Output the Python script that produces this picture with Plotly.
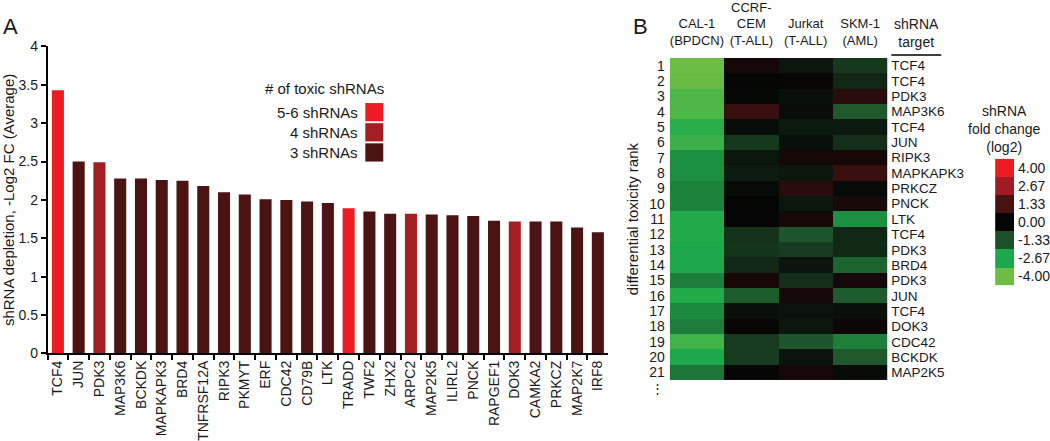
import plotly.graph_objects as go

W, H = 1050, 441
FONT = "Liberation Sans, Arial, Helvetica, sans-serif"

# ---------------- Panel A data ----------------
genes_a = ["TCF4", "JUN", "PDK3", "MAP3K6", "BCKDK", "MAPKAPK3", "BRD4", "TNFRSF12A",
           "RIPK3", "PKMYT", "ERF", "CDC42", "CD79B", "LTK", "TRADD", "TWF2", "ZHX2",
           "ARPC2", "MAP2K5", "ILIRL2", "PNCK", "RAPGEF1", "DOK3", "CAMKA2", "PRKCZ",
           "MAP2K7", "IRF8"]
depletion = [3.43, 2.50, 2.49, 2.28, 2.28, 2.26, 2.25, 2.18, 2.10, 2.07, 2.01, 2.00,
             1.98, 1.96, 1.89, 1.85, 1.82, 1.82, 1.81, 1.80, 1.79, 1.73, 1.72, 1.72,
             1.72, 1.64, 1.58]
toxic_group = ["5-6", "3", "4", "3", "3", "3", "3", "3", "3", "3", "3", "3", "3", "3",
               "5-6", "3", "3", "4", "3", "3", "3", "3", "4", "3", "3", "3", "3"]
group_labels = ["5-6", "4", "3"]
group_colors = {"5-6": "#ED1C24", "4": "#A51E23", "3": "#4B1311"}

# ---------------- Panel B data ----------------
ranks = list(range(1, 22))
cell_lines = ["CAL-1<br>(BPDCN)", "CCRF-<br>CEM<br>(T-ALL)", "Jurkat<br>(T-ALL)", "SKM-1<br>(AML)"]
shrna_targets = ["TCF4", "TCF4", "PDK3", "MAP3K6", "TCF4", "JUN", "RIPK3", "MAPKAPK3",
                 "PRKCZ", "PNCK", "LTK", "TCF4", "PDK3", "BRD4", "PDK3", "JUN", "TCF4",
                 "DOK3", "CDC42", "BCKDK", "MAP2K5"]
cal1 = [-4.0, -3.9, -3.5, -3.5, -2.9, -3.2, -2.3, -2.3, -2.1, -2.1, -2.8, -2.8, -2.7,
        -2.7, -2.0, -2.8, -2.2, -2.0, -3.3, -2.7, -1.9]
ccrf = [0.3, 0.0, -0.05, 1.0, -0.15, -0.9, -0.3, -0.4, -0.1, 0.0, 0.0, -0.8, -0.85,
        -0.6, 0.35, -1.5, -0.2, 0.05, -0.95, -0.95, 0.0]
jurkat = [-0.3, 0.05, -0.2, -0.15, -0.35, -0.2, 0.35, -0.3, 0.7, -0.3, 0.35, -1.4,
          -0.95, -0.25, -0.75, 0.3, -0.25, -0.3, -1.4, -0.25, 0.3]
skm1 = [-0.9, -0.6, 0.7, -1.45, -0.35, -0.75, 0.35, 1.0, -0.1, 0.4, -2.3, -0.6, -0.65,
        -1.65, 0.3, -1.5, -0.2, 0.15, -2.05, -1.45, -0.1]
scale_values = [-4.0, -2.67, -1.33, 0.0, 1.33, 2.67, 4.0]
scale_labels = ["-4.00", "-2.67", "-1.33", "0.00", "1.33", "2.67", "4.00"]
scale_colors = ["#6CBE45", "#1BA94B", "#1E5028", "#050505", "#4A1111", "#A01C22", "#ED1C24"]


def px(x):
    return x / W


def py(y):
    return 1 - y / H


colorscale = [[(v + 4) / 8, c] for v, c in zip(scale_values, scale_colors)]
z = [[a, b, c, d] for a, b, c, d in zip(cal1, ccrf, jurkat, skm1)]

fig = go.Figure()

# Panel A bars
fig.add_trace(go.Bar(
    x=genes_a, y=depletion,
    marker=dict(color=[group_colors[g] for g in toxic_group], line=dict(width=0)),
    width=0.58, showlegend=False, xaxis="x", yaxis="y",
))

# Panel B heatmap
fig.add_trace(go.Heatmap(
    z=z, x=[0, 1, 2, 3], y=ranks, colorscale=colorscale, zmin=-4, zmax=4,
    showscale=False, xaxis="x2", yaxis="y2",
))
# invisible trace so the right-hand target axis is drawn
fig.add_trace(go.Scatter(
    x=[0] * len(ranks), y=ranks, mode="markers", marker=dict(opacity=0),
    hoverinfo="skip", showlegend=False, xaxis="x2", yaxis="y4",
))

# Discrete colour key as small heatmap
fig.add_trace(go.Heatmap(
    z=[[v] for v in scale_values], x=[0], y=list(range(len(scale_values))),
    colorscale=colorscale, zmin=-4, zmax=4, showscale=False,
    xaxis="x3", yaxis="y3",
))

axis_common = dict(showgrid=False, zeroline=False)

fig.update_layout(
    width=W, height=H, autosize=False,
    margin=dict(l=0, r=0, t=0, b=0),
    paper_bgcolor="white", plot_bgcolor="white",
    font=dict(family=FONT, size=13, color="#1a1a1a"),
    bargap=0.42,
    xaxis=dict(
        domain=[px(47.6), px(609.4)], anchor="y", type="category",
        showline=True, linecolor="black", linewidth=1.5,
        ticks="outside", ticklen=5, tickwidth=1.5, tickcolor="black",
        tickson="boundaries", tickangle=-90, tickfont=dict(size=14),
        **axis_common,
    ),
    yaxis=dict(
        domain=[py(358), py(38)], anchor="x", range=[0, 4],
        tickvals=[0, 0.5, 1, 1.5, 2, 2.5, 3, 3.5, 4],
        ticktext=["0", "0.5", "1", "1.5", "2", "2.5", "3", "3.5", "4"],
        showline=True, linecolor="black", linewidth=1.5,
        ticks="outside", ticklen=5, tickwidth=1.5, tickcolor="black",
        tickfont=dict(size=14),
        title=dict(text="shRNA depletion, -Log2 FC (Average)", font=dict(size=15), standoff=5),
        **axis_common,
    ),
    xaxis2=dict(
        domain=[px(671), px(889)], anchor="y2", side="top", range=[-0.5, 3.5],
        tickvals=[0, 1, 2, 3], ticktext=cell_lines, ticks="", showline=False,
        tickfont=dict(size=13), ticklabelstandoff=9,
        **axis_common,
    ),
    yaxis2=dict(
        domain=[py(386), py(50)], anchor="x2", range=[21.5, 0.5],
        tickvals=ranks, ticktext=[str(r) for r in ranks], ticks="", showline=False,
        tickfont=dict(size=14), ticklabelstandoff=4,
        title=dict(text="differential toxicity rank", font=dict(size=15), standoff=6),
        **axis_common,
    ),
    yaxis4=dict(
        overlaying="y2", anchor="x2", side="right", range=[21.5, 0.5],
        tickvals=ranks, ticktext=shrna_targets, ticks="", showline=False,
        tickfont=dict(size=13.5), ticklabelstandoff=3,
        **axis_common,
    ),
    xaxis3=dict(
        domain=[px(997), px(1016)], anchor="y3", range=[-0.5, 0.5],
        showticklabels=False, ticks="", showline=False, **axis_common,
    ),
    yaxis3=dict(
        domain=[py(287), py(155)], anchor="x3", side="right", range=[-0.5, 6.5],
        tickvals=list(range(len(scale_values))), ticktext=scale_labels,
        ticks="", showline=False, tickfont=dict(size=14), ticklabelstandoff=3,
        **axis_common,
    ),
)

annotations = [
    dict(text="A", x=px(1), y=py(2), xanchor="left", yanchor="top", font=dict(size=22)),
    dict(text="B", x=px(632), y=py(2), xanchor="left", yanchor="top", font=dict(size=22)),
    dict(text="# of toxic shRNAs", x=px(325), y=py(82), xanchor="center", yanchor="middle",
         font=dict(size=15)),
    dict(text="shRNA<br>target", x=px(918), y=py(44), xanchor="center", yanchor="bottom",
         font=dict(size=14)),
    dict(text="shRNA<br>fold change<br>(log2)", x=px(1006), y=py(124), xanchor="center",
         yanchor="middle", font=dict(size=14)),
    dict(text="⋮", x=px(659), y=py(395), xanchor="center", yanchor="middle",
         font=dict(size=13)),
]
shapes = [
    dict(type="line", xref="paper", yref="paper", x0=px(893), x1=px(943),
         y0=py(47), y1=py(47), line=dict(color="black", width=1.5)),
]
item_tops = [97, 118, 139]
for g, top in zip(group_labels, item_tops):
    annotations.append(dict(text=f"{g} shRNAs", x=px(361), y=py(top + 9.5), xanchor="right",
                            yanchor="middle", font=dict(size=15)))
    shapes.append(dict(type="rect", xref="paper", yref="paper", x0=px(366), x1=px(384),
                       y0=py(top + 19), y1=py(top), fillcolor=group_colors[g],
                       line=dict(width=0)))
for a in annotations:
    a.update(xref="paper", yref="paper", showarrow=False)

fig.update_layout(annotations=annotations, shapes=shapes)

fig.write_html(
    "out.html",
    config={"displayModeBar": False},
    post_script="document.body.style.margin='0';document.body.style.overflow='hidden';",
)
